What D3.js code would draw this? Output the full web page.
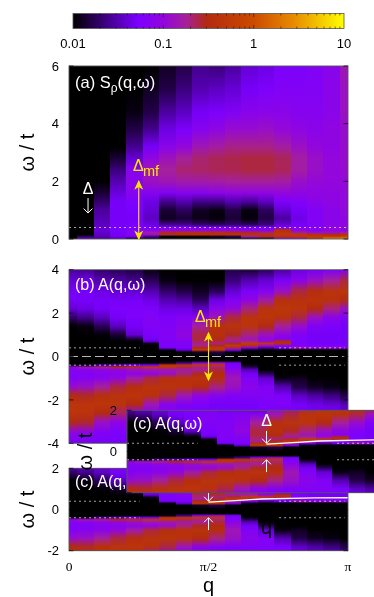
<!DOCTYPE html>
<html><head><meta charset="utf-8">
<script src="https://cdn.jsdelivr.net/npm/d3@7/dist/d3.min.js"></script>
<style>
html,body{margin:0;padding:0;background:#fff;overflow:hidden}
svg{display:block;filter:blur(0.5px)}
text{font-family:"Liberation Sans",Arial,sans-serif}
rect.col{shape-rendering:crispEdges}
</style></head><body>
<script>
// q index k means q = k*pi/17
const qCount = 18;
const qTicks = [0, 8.5, 17];
const qTickLabels = ["0", "π/2", "π"];
const cbTickValues = [0.01, 0.1, 1, 10];
const cbTickLabels = ["0.01", "0.1", "1", "10"];
const paletteLog = [-2, -1.28, -1, -0.75, -0.52, 0, 0.45, 1];
const paletteCol = ["#000000", "#7a00ff", "#9306dc", "#a5209a", "#b22a10", "#cc4a00", "#e88c00", "#ffff00"];
const yTicksA = [0, 2, 4, 6], yTicksB = [-4, -2, 0, 2, 4], yTicksC = [-2, 0, 2];

// log10 intensity, one row per q index, one entry per omega in omegaA
const omegaA = [6, 5.2, 4.4, 3.8, 3.2, 2.8, 2.4, 2, 1.6, 1.3, 1, 0.7, 0.5, 0.4, 0.3, 0.22, 0.15, 0.08, 0];
const logSA = [
[-2,-2,-2,-2,-2,-2,-2,-2,-2,-2,-2,-2,-2,-2,-2,-2,-2,-2,-1.95],
[-2,-2,-2,-2,-2,-2,-2,-2,-2,-2,-2,-2,-2,-2,-2,-2,-2,-1.7,-1.4],
[-2,-2,-2,-2,-2,-2,-2,-2,-1.85,-1.7,-1.55,-1.5,-1.45,-1.42,-1.4,-1.42,-1.45,-1.5,-1.55],
[-2,-2,-2,-2,-2,-1.85,-1.65,-1.5,-1.38,-1.3,-1.3,-1.3,-1.3,-1.3,-1.3,-1.3,-1.3,-1.35,-1.5],
[-2,-2,-1.95,-1.8,-1.6,-1.4,-1.15,-1.1,-1.15,-1.25,-1.28,-1.3,-1.28,-1.25,-1.22,-1.2,-1.1,-1.3,-2],
[-2,-1.9,-1.8,-1.6,-1.3,-1.05,-0.85,-0.9,-1.15,-1.35,-1.4,-1.45,-1.35,-1.3,-1.1,-0.8,-0.9,-1.6,-2],
[-1.9,-1.8,-1.55,-1.35,-1.1,-0.88,-0.75,-0.85,-1.2,-1.6,-1.85,-1.9,-1.6,-1.25,-1,-0.5,-0.6,-2,-2],
[-1.8,-1.65,-1.45,-1.25,-1,-0.75,-0.68,-0.8,-1.15,-1.5,-1.75,-1.85,-1.6,-1.25,-1,-0.45,-0.48,-2,-2],
[-1.6,-1.5,-1.3,-1.15,-0.85,-0.68,-0.66,-0.8,-1.15,-1.6,-1.9,-1.93,-1.7,-1.3,-1,-0.45,-0.45,-2,-2],
[-1.65,-1.45,-1.25,-1.05,-0.78,-0.64,-0.64,-0.78,-1.1,-1.6,-1.95,-1.97,-1.75,-1.3,-1,-0.45,-0.42,-1.9,-2],
[-1.55,-1.4,-1.2,-0.95,-0.72,-0.62,-0.63,-0.75,-1.05,-1.5,-1.8,-1.85,-1.7,-1.3,-1,-0.5,-0.4,-1.8,-2],
[-1.4,-1.3,-1.12,-0.95,-0.72,-0.6,-0.6,-0.75,-1.05,-1.55,-1.95,-1.97,-1.75,-1.3,-1.1,-0.55,-0.42,-0.8,-2],
[-1.35,-1.25,-1.1,-0.92,-0.72,-0.6,-0.6,-0.75,-1.05,-1.45,-1.75,-1.8,-1.65,-1.3,-1.1,-0.65,-0.42,-0.6,-2],
[-1.25,-1.2,-1.1,-0.98,-0.78,-0.64,-0.64,-0.78,-1,-1.25,-1.4,-1.55,-1.4,-1.2,-0.45,-0.35,-0.3,-0.42,-1.25],
[-1.25,-1.2,-1.15,-1.05,-0.9,-0.78,-0.78,-0.92,-1.05,-1.2,-1.3,-1.35,-1.3,-1.2,-1,-0.7,-0.3,-0.35,-1.1],
[-1.2,-1.2,-1.15,-1.1,-1,-0.92,-0.92,-0.98,-1.05,-1.1,-1.2,-1.2,-1.2,-1.15,-1.15,-0.9,-0.4,-0.3,-0.35],
[-1.1,-1.1,-1.1,-1.05,-1.05,-1,-1,-1,-1.05,-1.05,-1.1,-1.1,-1.1,-1.05,-1,-0.9,-0.5,-0.25,0.45],
[-0.85,-0.9,-0.9,-0.95,-0.95,-0.95,-0.95,-0.98,-1,-1,-1,-1.05,-1.05,-1.05,-1.05,-0.8,-0.4,-0.1,0.5]
];

const omegaB = [4,3.5,3,2.6,2.2,1.8,1.4,1,0.8,0.7,0.6,0.5,0.4,0.3,0.2,0,-0.2,-0.3,-0.4,-0.5,-0.6,-0.8,-1,-1.4,-1.8,-2.2,-2.6,-3,-3.5,-4];
const logAB = [
[-1.55,-1.4,-1.3,-1.3,-1.4,-1.7,-2,-2, -2,-2,-2,-2,-2,-2,-2, -2,-2,-2, -1.9,-1,-1.15,-1.2,-1.2,-0.95,-0.5,-0.35,-0.35,-0.5,-1.05,-1.3],
[-1.6,-1.35,-1.3,-1.3,-1.35,-1.6,-1.95,-2, -2,-2,-2,-2,-2,-2,-2, -2,-2,-2, -1.9,-0.85,-1.1,-1.2,-1.15,-0.9,-0.55,-0.35,-0.37,-0.55,-1.1,-1.3],
[-1.7,-1.5,-1.35,-1.3,-1.3,-1.45,-1.75,-1.98, -2,-2,-2,-2,-2,-2,-2, -2,-2,-2, -1.6,-0.7,-1.05,-1.15,-1.1,-0.75,-0.42,-0.35,-0.5,-0.9,-1.2,-1.3],
[-1.75,-1.55,-1.4,-1.3,-1.25,-1.3,-1.45,-1.85, -1.95,-2,-2,-2,-2,-2,-2, -2,-2,-2, -1.5,-0.5,-1,-1.1,-1,-0.6,-0.38,-0.38,-0.65,-1.05,-1.25,-1.3],
[-1.8,-1.6,-1.4,-1.3,-1.25,-1.25,-1.3,-1.4, -1.85,-1.98,-2,-2,-2,-2,-2, -2,-2,-2, -1.3,-0.42,-0.9,-1.05,-0.8,-0.45,-0.35,-0.5,-1,-1.2,-1.3,-1.3],
[-1.95,-1.75,-1.5,-1.35,-1.25,-1.2,-1.2,-1.25, -1.3,-1.4,-1.9,-2,-2,-2,-2, -2,-2,-2, -1.2,-0.3,-0.85,-1,-0.6,-0.38,-0.4,-0.85,-1.15,-1.25,-1.3,-1.3],
[-2,-1.95,-1.7,-1.5,-1.35,-1.25,-1.2,-1.2, -1.2,-1.2,-1.25,-1.25,-1.3,-1.95,-2, -2,-2,-1.9, -0.35,-0.35,-0.85,-0.9,-0.45,-0.38,-0.6,-1.1,-1.25,-1.3,-1.3,-1.3],
[-2,-2,-1.8,-1.55,-1.35,-1.2,-1.1,-1.05, -1.1,-1.15,-1.2,-1.25,-1.25,-1.4,-2, -2,-2,-1.6, -0.3,-0.6,-0.8,-0.7,-0.4,-0.4,-0.85,-1.2,-1.3,-1.3,-1.3,-1.3],
[-2,-2,-1.9,-1.75,-1.45,-1.15,-0.75,-0.6, -0.6,-0.65,-0.7,-0.75,-0.5,-0.25,-1.9, -2,-2,-1.1, -0.25,-0.7,-0.75,-0.55,-0.38,-0.5,-1.05,-1.25,-1.3,-1.3,-1.3,-1.3],
[-2,-2,-1.75,-1.35,-1.1,-0.85,-0.42,-0.42, -0.5,-0.6,-0.7,-0.55,-0.28,-0.3,-1.8, -2,-2,-0.9, -0.3,-0.7,-0.6,-0.5,-0.45,-0.7,-1.15,-1.3,-1.3,-1.3,-1.3,-1.3],
[-1.8,-1.65,-1.4,-1.2,-1,-0.6,-0.38,-0.55, -0.7,-0.8,-0.55,-0.25,-0.6,-1.2,-2, -2,-2,-1.3, -1.25,-1.2,-1.1,-0.95,-0.85,-0.9,-1.2,-1.3,-1.3,-1.3,-1.3,-1.3],
[-1.85,-1.5,-1.25,-1.05,-0.7,-0.38,-0.35,-0.7, -0.85,-0.75,-0.25,-0.4,-1.2,-1.9,-2, -2,-2,-2, -1.95,-1.75,-1.5,-1.3,-1.2,-1.1,-1.2,-1.3,-1.3,-1.3,-1.3,-1.3],
[-1.75,-1.4,-1.15,-0.8,-0.38,-0.35,-0.5,-0.9, -1,-0.95,-0.3,-0.9,-1.5,-2,-2, -2,-2,-2, -2,-2,-2,-1.75,-1.4,-1.2,-1.2,-1.25,-1.3,-1.3,-1.3,-1.3],
[-1.55,-1.25,-0.9,-0.42,-0.33,-0.4,-0.75,-1.05, -1.15,-0.5,-0.45,-1.1,-1.3,-2,-2, -2,-2,-2, -2,-2,-2,-2,-1.95,-1.5,-1.25,-1.2,-1.3,-1.3,-1.3,-1.3],
[-1.35,-1.1,-0.6,-0.4,-0.35,-0.6,-0.95,-1.2, -1.25,-1.25,-1.25,-1.2,-0.9,-2,-2, -2,-2,-2, -2,-2,-2,-2,-1.9,-1.8,-1.45,-1.3,-1.3,-1.3,-1.3,-1.3],
[-1.3,-0.9,-0.45,-0.37,-0.5,-0.9,-1.2,-1.3, -1.3,-1.3,-1.3,-1.25,-1,-2,-2, -2,-2,-2, -2,-2,-2,-2,-2,-1.9,-1.55,-1.35,-1.3,-1.3,-1.3,-1.3],
[-1.25,-0.75,-0.38,-0.4,-0.7,-1.1,-1.25,-1.3, -1.3,-1.3,-1.3,-1.25,-1,-2,-2, -2,-2,-2, -2,-2,-2,-2,-2,-1.95,-1.65,-1.4,-1.3,-1.3,-1.3,-1.3],
[-1.2,-0.6,-0.35,-0.5,-0.9,-1.2,-1.3,-1.3, -1.3,-1.3,-1.3,-1.25,-1,-2,-2, -2,-2,-2, -2,-2,-2,-2,-2,-2,-1.8,-1.5,-1.35,-1.3,-1.3,-1.3]
];

// overlays, in data units (q index, omega)
const gapOmega = 0.4;
const dottedQRanges = [[0, 4.3], [12.8, 16.8]];
const bandQ = [8.5, 10.1, 11.7, 15, 17];
const bandOmega = [0.36, 0.43, 0.51, 0.56, 0.57];

const width = 374, height = 597;
const svg = d3.select("body").append("svg").attr("width", width).attr("height", height);
const defs = svg.append("defs");
const color = d3.scaleLinear().domain(paletteLog).range(paletteCol).interpolate(d3.interpolateRgb).clamp(true);
const x = d3.scaleLinear().domain([0, qCount - 1]).range([69, 348]);

// colour bar
const cbScale = d3.scaleLog().domain([0.01, 10]).range([73, 344]);
const cbGrad = defs.append("linearGradient").attr("id", "cb");
paletteLog.forEach((v, i) => cbGrad.append("stop").attr("offset", (v + 2) / 3).attr("stop-color", paletteCol[i]));
const cb = svg.append("g");
cb.append("rect").attr("x", 73).attr("y", 13.5).attr("width", 271).attr("height", 15).attr("fill", "url(#cb)").attr("stroke", "#555").attr("stroke-width", 0.8);
cb.selectAll("line.m").data(cbScale.ticks().filter(v => v > 0.01 && v < 10)).join("line")
  .attr("x1", d => cbScale(d)).attr("x2", d => cbScale(d)).attr("stroke", "#000").attr("stroke-width", 0.5)
  .attr("y1", 13.5).attr("y2", d => 13.5 + (cbTickValues.includes(d) ? 3.5 : 2));
cb.selectAll("line.b").data(cbScale.ticks().filter(v => v > 0.01 && v < 10)).join("line")
  .attr("class", "b").attr("x1", d => cbScale(d)).attr("x2", d => cbScale(d)).attr("stroke", "#000").attr("stroke-width", 0.5)
  .attr("y1", 28.5).attr("y2", d => 28.5 - (cbTickValues.includes(d) ? 3.5 : 2));
cb.selectAll("text").data(cbTickValues).join("text")
  .attr("x", d => cbScale(d)).attr("y", 48).attr("text-anchor", "middle").attr("font-size", 13).attr("fill", "#000")
  .text((d, i) => cbTickLabels[i]);

function heat(g, id, y, omega, matrix, topW, botW) {
  matrix.forEach((col, k) => {
    const gr = defs.append("linearGradient").attr("id", id + k).attr("gradientUnits", "userSpaceOnUse")
      .attr("x1", 0).attr("x2", 0).attr("y1", y(omega[0])).attr("y2", y(omega[omega.length - 1]));
    col.forEach((v, i) => gr.append("stop")
      .attr("offset", (y(omega[i]) - y(omega[0])) / (y(omega[omega.length - 1]) - y(omega[0])))
      .attr("stop-color", color(v)));
  });
  g.selectAll("rect.col").data(matrix).join("rect").attr("class", "col")
    .attr("x", (d, k) => Math.round(x(Math.max(k - 0.5, 0))))
    .attr("width", (d, k) => Math.round(x(Math.min(k + 0.5, qCount - 1))) - Math.round(x(Math.max(k - 0.5, 0))))
    .attr("y", y(topW)).attr("height", y(botW) - y(topW))
    .attr("fill", (d, k) => `url(#${id}${k})`);
}
function frame(g, y, yTicks, showQ) {
  const r = y.range();
  g.append("rect").attr("x", 69).attr("y", r[1]).attr("width", 279).attr("height", r[0] - r[1])
    .attr("fill", "none").attr("stroke", "#555").attr("stroke-width", 0.9);
  yTicks.forEach(t => {
    g.append("line").attr("x1", 69).attr("x2", 73.5).attr("y1", y(t)).attr("y2", y(t)).attr("stroke", "#000").attr("stroke-width", 0.7);
    g.append("line").attr("x1", 343.5).attr("x2", 348).attr("y1", y(t)).attr("y2", y(t)).attr("stroke", "#000").attr("stroke-width", 0.7);
  });
  g.selectAll("text.ty").data(yTicks).join("text").attr("class", "ty")
    .attr("x", 59).attr("y", d => y(d) + 4.6).attr("text-anchor", "end").attr("font-size", 13).attr("fill", "#000")
    .text(d => d);
  g.append("text").attr("transform", `translate(34,${(r[0] + r[1]) / 2}) rotate(-90)`)
    .attr("text-anchor", "middle").attr("font-size", 20).attr("fill", "#000").text("ω / t");
  if (showQ) {
    g.selectAll("text.tq").data(qTicks).join("text").attr("class", "tq")
      .attr("x", d => x(d)).attr("y", r[0] + 20).attr("text-anchor", "middle").attr("font-size", 13.5).attr("fill", "#000")
      .style("font-family", "'Liberation Serif',serif").text((d, i) => qTickLabels[i]);
    g.append("text").attr("x", x(8.5)).attr("y", r[0] + 41.5).attr("text-anchor", "middle").attr("font-size", 20).attr("fill", "#000").text("q");
  }
}
function hline(g, y, w, q0, q1, dash, sw, op) {
  g.append("line").attr("x1", x(q0)).attr("x2", x(q1)).attr("y1", y(w)).attr("y2", y(w))
    .attr("stroke", "#fff").attr("stroke-width", sw).attr("stroke-dasharray", dash).attr("opacity", op);
}
function arrow(g, ax, y0, y1, col, sw, both, filled) {
  const hw = filled ? 3.2 : 4.4, hd = filled ? 7 : 4.5;
  const head = (tip, dir) => {
    const p = `M${ax - hw},${tip + dir * hd}L${ax},${tip}L${ax + hw},${tip + dir * hd}`;
    g.append("path").attr("d", filled ? p + "L" + ax + "," + (tip + dir * 5) + "Z" : p)
      .attr("fill", filled ? col : "none").attr("stroke", col).attr("stroke-width", sw);
  };
  g.append("line").attr("x1", ax).attr("x2", ax).attr("y1", y0).attr("y2", y1).attr("stroke", col).attr("stroke-width", sw);
  head(y1, y1 > y0 ? -1 : 1);
  if (both) head(y0, y0 > y1 ? -1 : 1);
}
function gapText(g, tx, ty, size) {
  g.append("text").attr("x", tx).attr("y", ty).attr("font-size", size).attr("fill", "#ffe800").text("Δ");
  g.append("text").attr("x", tx + 10).attr("y", ty + 5).attr("font-size", size - 1.5).attr("fill", "#ffe800").text("mf");
}

// panel (a)
const ya = d3.scaleLinear().domain([0, 6]).range([239, 66]);
const ga = svg.append("g");
heat(ga, "a", ya, omegaA, logSA, 6, 0);
hline(ga, ya, gapOmega, 0, 17, "2,3", 0.8, 0.85);
frame(ga, ya, yTicksA, false);
const ta = ga.append("text").attr("x", 75).attr("y", 88).attr("font-size", 16.5).attr("fill", "#fff");
ta.append("tspan").text("(a) S");
ta.append("tspan").attr("dy", 4).attr("font-size", 12).text("ρ");
ta.append("tspan").attr("dy", -4).text("(q,ω)");
ga.append("text").attr("x", 88).attr("y", 194).attr("text-anchor", "middle").attr("font-size", 16).attr("fill", "#fff").text("Δ");
arrow(ga, x(1.16), ya(1.42), ya(0.9), "#fff", 1, false, false);
arrow(ga, x(4.25), ya(2), ya(0), "#ffe800", 1.1, true, true);
gapText(ga, 133, 171, 16);

// panel (b)
const yb = d3.scaleLinear().domain([-4, 4]).range([443.3, 269.7]);
const gb = svg.append("g");
heat(gb, "b", yb, omegaB, logAB, 4, -4);
dottedQRanges.forEach(r => { hline(gb, yb, gapOmega, r[0], r[1], "2,3", 0.8, 0.8); hline(gb, yb, -gapOmega, r[0], r[1], "2,3", 0.8, 0.8); });
hline(gb, yb, 0, 0, 16.8, "9,4", 0.8, 0.9);
frame(gb, yb, yTicksB, false);
gb.append("text").attr("x", 75).attr("y", 290).attr("font-size", 16).attr("fill", "#fff").text("(b) A(q,ω)");
arrow(gb, x(8.5), yb(1.08), yb(-1.08), "#ffe800", 1.1, true, true);
gapText(gb, 195, 321.5, 16);

// panel (c) and its shifted copy
function panelC(id, dx, dy) {
  const y = d3.scaleLinear().domain([-2, 2]).range([550.7, 468.3]);
  const g = svg.append("g").attr("transform", `translate(${dx},${dy})`);
  heat(g, id, y, omegaB, logAB, 2, -2);
  dottedQRanges.forEach(r => { hline(g, y, gapOmega, r[0], r[1], "2,3", 0.8, 0.8); hline(g, y, -gapOmega, r[0], r[1], "2,3", 0.8, 0.8); });
  g.append("path").attr("d", d3.line().x(d => x(d[0])).y(d => y(d[1]))(bandQ.map((q, i) => [q, bandOmega[i]])))
    .attr("fill", "none").attr("stroke", "#fff").attr("stroke-width", 1.3);
  frame(g, y, yTicksC, true);
  g.append("text").attr("x", 75).attr("y", 487).attr("font-size", 16).attr("fill", "#fff").text("(c) A(q,ω)");
  g.append("text").attr("x", x(8.5)).attr("y", 484).attr("text-anchor", "middle").attr("font-size", 16).attr("fill", "#fff").text("Δ");
  arrow(g, x(8.5), y(1), y(gapOmega), "#fff", 1, false, false);
  arrow(g, x(8.5), y(-1), y(-gapOmega), "#fff", 1, false, false);
}
panelC("c", 0, 0);
panelC("d", 58, -58);
</script>
</body></html>
